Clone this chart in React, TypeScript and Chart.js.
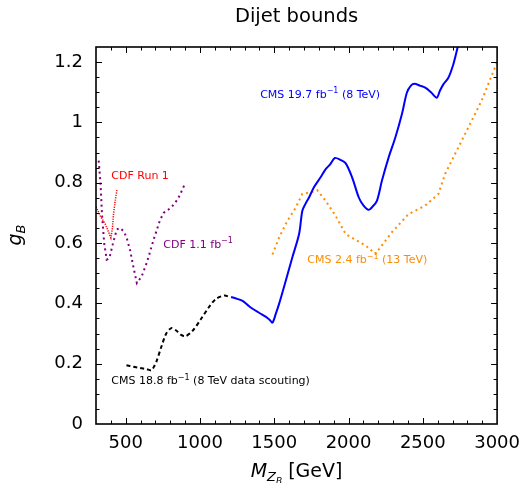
import React, { useEffect, useRef } from "react";
import { Chart, registerables } from "chart.js";

Chart.register(...registerables);

// Axis ticks
const xTicks = [500, 1000, 1500, 2000, 2500, 3000];
const xTickLabels = ["500", "1000", "1500", "2000", "2500", "3000"];
const yTicks = [0, 0.2, 0.4, 0.6, 0.8, 1, 1.2];
const yTickLabels = ["0", "0.2", "0.4", "0.6", "0.8", "1", "1.2"];

// CMS 19.7 fb^-1 (8 TeV)
const cms197Mass = [1209, 1250, 1287, 1320, 1354, 1400, 1444, 1470, 1488, 1510, 1533, 1578, 1622, 1667, 1689, 1710, 1734, 1767, 1812, 1846, 1875, 1908, 1945, 1980, 2024, 2069, 2100, 2136, 2160, 2191, 2225, 2270, 2315, 2359, 2393, 2420, 2444, 2480, 2516, 2555, 2594, 2615, 2638, 2672, 2705, 2735];
const cms197G = [0.421, 0.415, 0.408, 0.395, 0.382, 0.368, 0.355, 0.345, 0.336, 0.365, 0.399, 0.476, 0.553, 0.63, 0.707, 0.73, 0.751, 0.785, 0.818, 0.845, 0.86, 0.882, 0.876, 0.865, 0.818, 0.751, 0.725, 0.71, 0.72, 0.74, 0.807, 0.884, 0.95, 1.027, 1.099, 1.122, 1.128, 1.122, 1.115, 1.1, 1.082, 1.105, 1.126, 1.148, 1.192, 1.25];

// CMS 18.8 fb^-1 (8 TeV data scouting)
const cms188Mass = [505, 550, 595, 640, 673, 690, 706, 740, 773, 807, 840, 870, 903, 952, 1008, 1064, 1108, 1164, 1198];
const cms188G = [0.195, 0.19, 0.186, 0.182, 0.178, 0.19, 0.206, 0.256, 0.3, 0.318, 0.31, 0.296, 0.291, 0.31, 0.349, 0.39, 0.415, 0.426, 0.421];

// CMS 2.4 fb^-1 (13 TeV)
const cms24Mass = [1488, 1533, 1589, 1645, 1689, 1745, 1789, 1846, 1912, 1980, 2035, 2114, 2181, 2292, 2404, 2516, 2605, 2650, 2717, 2806, 2895, 3000];
const cms24G = [0.562, 0.619, 0.674, 0.718, 0.763, 0.768, 0.775, 0.74, 0.691, 0.63, 0.614, 0.592, 0.564, 0.636, 0.696, 0.724, 0.763, 0.829, 0.895, 0.983, 1.071, 1.2];

// CDF 1.1 fb^-1
const cdf11Mass = [318, 330, 340, 355, 372, 390, 415, 440, 460, 485, 505, 530, 552, 575, 608, 642, 686, 730, 755, 790, 810, 850, 870, 898];
const cdf11G = [0.873, 0.8, 0.7, 0.6, 0.545, 0.55, 0.6, 0.645, 0.65, 0.64, 0.62, 0.575, 0.52, 0.467, 0.49, 0.535, 0.608, 0.675, 0.7, 0.712, 0.72, 0.745, 0.765, 0.796];

// CDF Run 1
const cdfRun1Mass = [300, 329, 362, 385, 400, 411, 418, 429, 441];
const cdfRun1G = [0.72, 0.69, 0.663, 0.636, 0.617, 0.652, 0.697, 0.74, 0.776];

const FONT = "'DejaVu Sans', sans-serif";

type Run = { t: string; size: number; dy?: number; italic?: boolean };

function runFont(r: Run) {
  return `${r.italic ? "italic " : ""}${r.size}px ${FONT}`;
}

function drawRuns(ctx: CanvasRenderingContext2D, runs: Run[], x: number, y: number, color: string, align: "left" | "center") {
  let total = 0;
  for (const r of runs) {
    ctx.font = runFont(r);
    total += ctx.measureText(r.t).width;
  }
  let cx = align === "center" ? x - total / 2 : x;
  ctx.fillStyle = color;
  ctx.textAlign = "left";
  ctx.textBaseline = "alphabetic";
  for (const r of runs) {
    ctx.font = runFont(r);
    ctx.fillText(r.t, cx, y + (r.dy || 0));
    cx += ctx.measureText(r.t).width;
  }
}

const ANN = 11;
const sup = (t: string): Run => ({ t, size: 8, dy: -4.5 });

const annotations: { x: number; y: number; color: string; runs: Run[] }[] = [
  { x: 1405, y: 1.081, color: "#0000ff", runs: [{ t: "CMS 19.7 fb", size: ANN }, sup("\u22121"), { t: " (8 TeV)", size: ANN }] },
  { x: 403, y: 0.813, color: "#ff0000", runs: [{ t: "CDF Run 1", size: ANN }] },
  { x: 753, y: 0.584, color: "#800080", runs: [{ t: "CDF 1.1 fb", size: ANN }, sup("\u22121")] },
  { x: 1722, y: 0.533, color: "#ff8c00", runs: [{ t: "CMS 2.4 fb", size: ANN }, sup("\u22121"), { t: " (13 TeV)", size: ANN }] },
  { x: 403, y: 0.132, color: "#000000", runs: [{ t: "CMS 18.8 fb", size: ANN }, sup("\u22121"), { t: " (8 TeV data scouting)", size: ANN }] },
];

const pairs = (xs: number[], ys: number[]) => xs.map((x, i) => ({ x, y: ys[i] }));

const decorPlugin = {
  id: "decor",
  afterDatasetsDraw(chart: any) {
    const ctx: CanvasRenderingContext2D = chart.ctx;
    const { left, right, top, bottom } = chart.chartArea;
    const xs = chart.scales.x;
    const ys = chart.scales.y;
    ctx.save();

    // annotations
    for (const a of annotations) {
      drawRuns(ctx, a.runs, xs.getPixelForValue(a.x), ys.getPixelForValue(a.y), a.color, "left");
    }

    // tick marks on all four sides, pointing inward
    ctx.strokeStyle = "#000";
    ctx.lineWidth = 1;
    ctx.beginPath();
    for (let v = 400; v < 3000; v += 100) {
      const major = v % 500 === 0;
      const len = major ? 6 : 3.5;
      const px = Math.round(xs.getPixelForValue(v)) + 0.5;
      ctx.moveTo(px, bottom);
      ctx.lineTo(px, bottom - len);
      ctx.moveTo(px, top);
      ctx.lineTo(px, top + len);
    }
    for (let i = 1; i < 25; i++) {
      const v = i * 0.05;
      const major = i % 4 === 0;
      const len = major ? 6 : 3.5;
      const py = Math.round(ys.getPixelForValue(v)) + 0.5;
      ctx.moveTo(left, py);
      ctx.lineTo(left + len, py);
      ctx.moveTo(right, py);
      ctx.lineTo(right - len, py);
    }
    ctx.stroke();

    // frame
    ctx.lineWidth = 1.6;
    ctx.strokeRect(left, top, right - left, bottom - top);

    // title
    drawRuns(ctx, [{ t: "Dijet bounds", size: 19.5 }], (left + right) / 2, 22, "#000", "center");

    // x-axis title
    drawRuns(
      ctx,
      [
        { t: "M", size: 19, italic: true },
        { t: "Z", size: 13, italic: true, dy: 4 },
        { t: "B", size: 9, italic: true, dy: 7 },
        { t: " [GeV]", size: 19 },
      ],
      (left + right) / 2,
      477,
      "#000",
      "center"
    );

    // y-axis title
    ctx.save();
    ctx.translate(21, 235);
    ctx.rotate(-Math.PI / 2);
    drawRuns(ctx, [{ t: "g", size: 19, italic: true }, { t: "B", size: 13, italic: true, dy: 4 }], 0, 0, "#000", "center");
    ctx.restore();

    ctx.restore();
  },
};

export default function App() {
  const ref = useRef<HTMLCanvasElement | null>(null);

  useEffect(() => {
    if (!ref.current) return;
    const chart = new Chart(ref.current, {
      type: "scatter",
      data: {
        datasets: [
          {
            label: "CMS 18.8",
            data: pairs(cms188Mass, cms188G),
            showLine: true,
            borderColor: "#000000",
            borderWidth: 2,
            borderDash: [4, 3],
            tension: 0.3,
            pointRadius: 0,
          },
          {
            label: "CMS 19.7",
            data: pairs(cms197Mass, cms197G),
            showLine: true,
            borderColor: "#0000ff",
            borderWidth: 2,
            tension: 0.3,
            pointRadius: 0,
          },
          {
            label: "CMS 2.4",
            data: pairs(cms24Mass, cms24G),
            showLine: true,
            borderColor: "#ff8c00",
            borderWidth: 2,
            borderDash: [2, 3.5],
            tension: 0,
            pointRadius: 0,
          },
          {
            label: "CDF 1.1",
            data: pairs(cdf11Mass, cdf11G),
            showLine: true,
            borderColor: "#800080",
            borderWidth: 2,
            borderDash: [2, 3.5],
            tension: 0,
            pointRadius: 0,
          },
          {
            label: "CDF Run 1",
            data: pairs(cdfRun1Mass, cdfRun1G),
            showLine: true,
            borderColor: "#ff0000",
            borderWidth: 1.5,
            borderDash: [1.2, 1.2],
            tension: 0,
            pointRadius: 0,
          },
        ],
      },
      options: {
        animation: false,
        responsive: false,
        devicePixelRatio: 1,
        layout: { padding: { left: 0, right: 30, top: 47, bottom: 0 } },
        plugins: { legend: { display: false }, tooltip: { enabled: false }, title: { display: false } },
        scales: {
          x: {
            type: "linear",
            min: 300,
            max: 3000,
            grid: { display: false, drawTicks: false },
            border: { display: false },
            afterFit: (s: any) => {
              s.height = 59;
            },
            afterBuildTicks: (s: any) => {
              s.ticks = xTicks.map((v) => ({ value: v }));
            },
            ticks: {
              padding: 9,
              color: "#000",
              font: { family: FONT, size: 18 },
              maxRotation: 0,
              callback: (v: any) => {
                const i = xTicks.indexOf(Number(v));
                return i >= 0 ? xTickLabels[i] : "";
              },
            },
          },
          y: {
            type: "linear",
            min: 0,
            max: 1.25,
            grid: { display: false, drawTicks: false },
            border: { display: false },
            afterFit: (s: any) => {
              s.width = 96;
            },
            afterBuildTicks: (s: any) => {
              s.ticks = yTicks.map((v) => ({ value: v }));
            },
            ticks: {
              padding: 13,
              color: "#000",
              font: { family: FONT, size: 18 },
              callback: (v: any) => {
                const i = yTicks.findIndex((t) => Math.abs(t - Number(v)) < 1e-9);
                return i >= 0 ? yTickLabels[i] : "";
              },
            },
          },
        },
      },
      plugins: [decorPlugin],
    });
    return () => chart.destroy();
  }, []);

  return (
    <div style={{ position: "fixed", left: 0, top: 0, width: 529, height: 483, background: "#fff" }}>
      <canvas ref={ref} width={529} height={483} style={{ width: 529, height: 483, display: "block" }} />
    </div>
  );
}
